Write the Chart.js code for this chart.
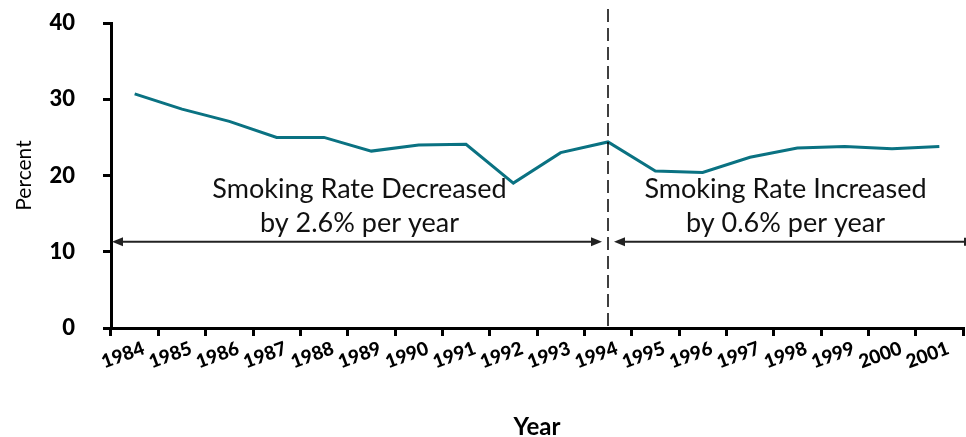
<!DOCTYPE html>
<html>
<head>
<meta charset="utf-8">
<title>Smoking rate, 1984-2001</title>
<script src="https://cdn.jsdelivr.net/npm/chart.js"></script>
<style>
  html, body { margin: 0; padding: 0; background: #fff; }
  #chart { display: block; }
</style>
</head>
<body>
<canvas id="chart" width="966" height="437"></canvas>
<script>
// Yearly smoking rate (percent)
const years = ["1984", "1985", "1986", "1987", "1988", "1989", "1990", "1991", "1992",
               "1993", "1994", "1995", "1996", "1997", "1998", "1999", "2000", "2001"];
const rates = [30.7, 28.7, 27.1, 25.0, 25.0, 23.2, 24.0, 24.1, 19.0,
               23.0, 24.4, 20.6, 20.4, 22.4, 23.6, 23.8, 23.5, 23.8];
const yTicks = [0, 10, 20, 30, 40];

// trend break and the two period notes
const breakYear = "1994";
const arrowLevel = 11.3;
const notes = [
  ["Smoking Rate Decreased", "by 2.6% per year"],
  ["Smoking Rate Increased", "by 0.6% per year"]
];

const FONT = "Lato, 'Open Sans', sans-serif";
const teal = "#0a7282";

function arrowHead(ctx, x, y, dir) {
  ctx.beginPath();
  ctx.moveTo(x, y);
  ctx.lineTo(x - dir * 11, y - 4.5);
  ctx.lineTo(x - dir * 11, y + 4.5);
  ctx.closePath();
  ctx.fill();
}

// dashed break line, the two arrows and their captions
const periodNotes = {
  id: "periodNotes",
  afterDatasetsDraw(chart) {
    const {ctx, chartArea, scales: {x, y}} = chart;
    const bx = x.getPixelForValue(years.indexOf(breakYear));
    const ay = y.getPixelForValue(arrowLevel);

    ctx.save();
    ctx.strokeStyle = "#000";
    ctx.lineWidth = 1.5;
    ctx.setLineDash([13, 6]);
    ctx.beginPath();
    ctx.moveTo(bx, 9);
    ctx.lineTo(bx, chartArea.bottom);
    ctx.stroke();
    ctx.setLineDash([]);

    ctx.strokeStyle = "#222";
    ctx.fillStyle = "#222";
    ctx.lineWidth = 2;
    const leftEnd = chartArea.left + 1;
    const rightEnd = chart.width - 1;
    // left period
    ctx.beginPath();
    ctx.moveTo(leftEnd + 4, ay);
    ctx.lineTo(bx - 10, ay);
    ctx.stroke();
    arrowHead(ctx, leftEnd, ay, -1);
    arrowHead(ctx, bx - 6, ay, 1);
    // right period
    ctx.beginPath();
    ctx.moveTo(bx + 10, ay);
    ctx.lineTo(rightEnd, ay);
    ctx.stroke();
    arrowHead(ctx, bx + 6, ay, -1);
    ctx.beginPath();
    ctx.moveTo(rightEnd, ay - 4);
    ctx.lineTo(rightEnd, ay + 4);
    ctx.stroke();

    ctx.fillStyle = "#111";
    ctx.font = "27px " + FONT;
    ctx.textAlign = "center";
    ctx.textBaseline = "alphabetic";
    const centers = [(chartArea.left + bx) / 2, (bx + chartArea.right) / 2];
    notes.forEach((lines, i) => {
      ctx.fillText(lines[0], centers[i], ay - 44);
      ctx.fillText(lines[1], centers[i], ay - 10);
    });
    ctx.restore();
  }
};

new Chart(document.getElementById("chart"), {
  type: "line",
  data: {
    labels: years,
    datasets: [{
      data: rates,
      borderColor: teal,
      borderWidth: 3,
      pointRadius: 0,
      tension: 0,
      fill: false
    }]
  },
  options: {
    responsive: false,
    devicePixelRatio: 1,
    animation: false,
    layout: { padding: { top: 23, right: 3, left: 0, bottom: 0 } },
    plugins: {
      legend: { display: false },
      tooltip: { enabled: false }
    },
    scales: {
      x: {
        offset: true,
        grid: {
          offset: true,
          drawOnChartArea: false,
          drawTicks: true,
          tickLength: 8,
          color: "#000",
          lineWidth: 3
        },
        border: { display: true, color: "#000", width: 3 },
        ticks: {
          autoSkip: false,
          minRotation: 20,
          maxRotation: 20,
          labelOffset: 9,
          padding: 1,
          color: "#000",
          font: { family: FONT, size: 19, weight: "900" }
        },
        title: {
          display: true,
          text: "Year",
          color: "#000",
          padding: { top: 0, bottom: 0 },
          font: { family: FONT, size: 24, weight: "bold", lineHeight: 0.85 }
        },
        afterFit(scale) { scale.height = 109; }
      },
      y: {
        min: 0,
        max: 40,
        afterBuildTicks(scale) { scale.ticks = yTicks.map(v => ({ value: v })); },
        grid: {
          drawOnChartArea: false,
          drawTicks: true,
          tickLength: 8,
          color: "#000",
          lineWidth: 3
        },
        border: { display: true, color: "#000", width: 3 },
        ticks: {
          padding: 28,
          color: "#000",
          font: { family: FONT, size: 22, weight: "900" }
        },
        title: {
          display: true,
          text: "Percent",
          color: "#000",
          padding: { top: 12, bottom: 0 },
          font: { family: FONT, size: 21 }
        },
        afterFit(scale) {
          scale.width = 111;
          // the tick padding only moves labels sideways here
          scale.paddingTop = 12;
          scale.paddingBottom = 12;
        }
      }
    }
  },
  plugins: [periodNotes]
});
</script>
</body>
</html>
